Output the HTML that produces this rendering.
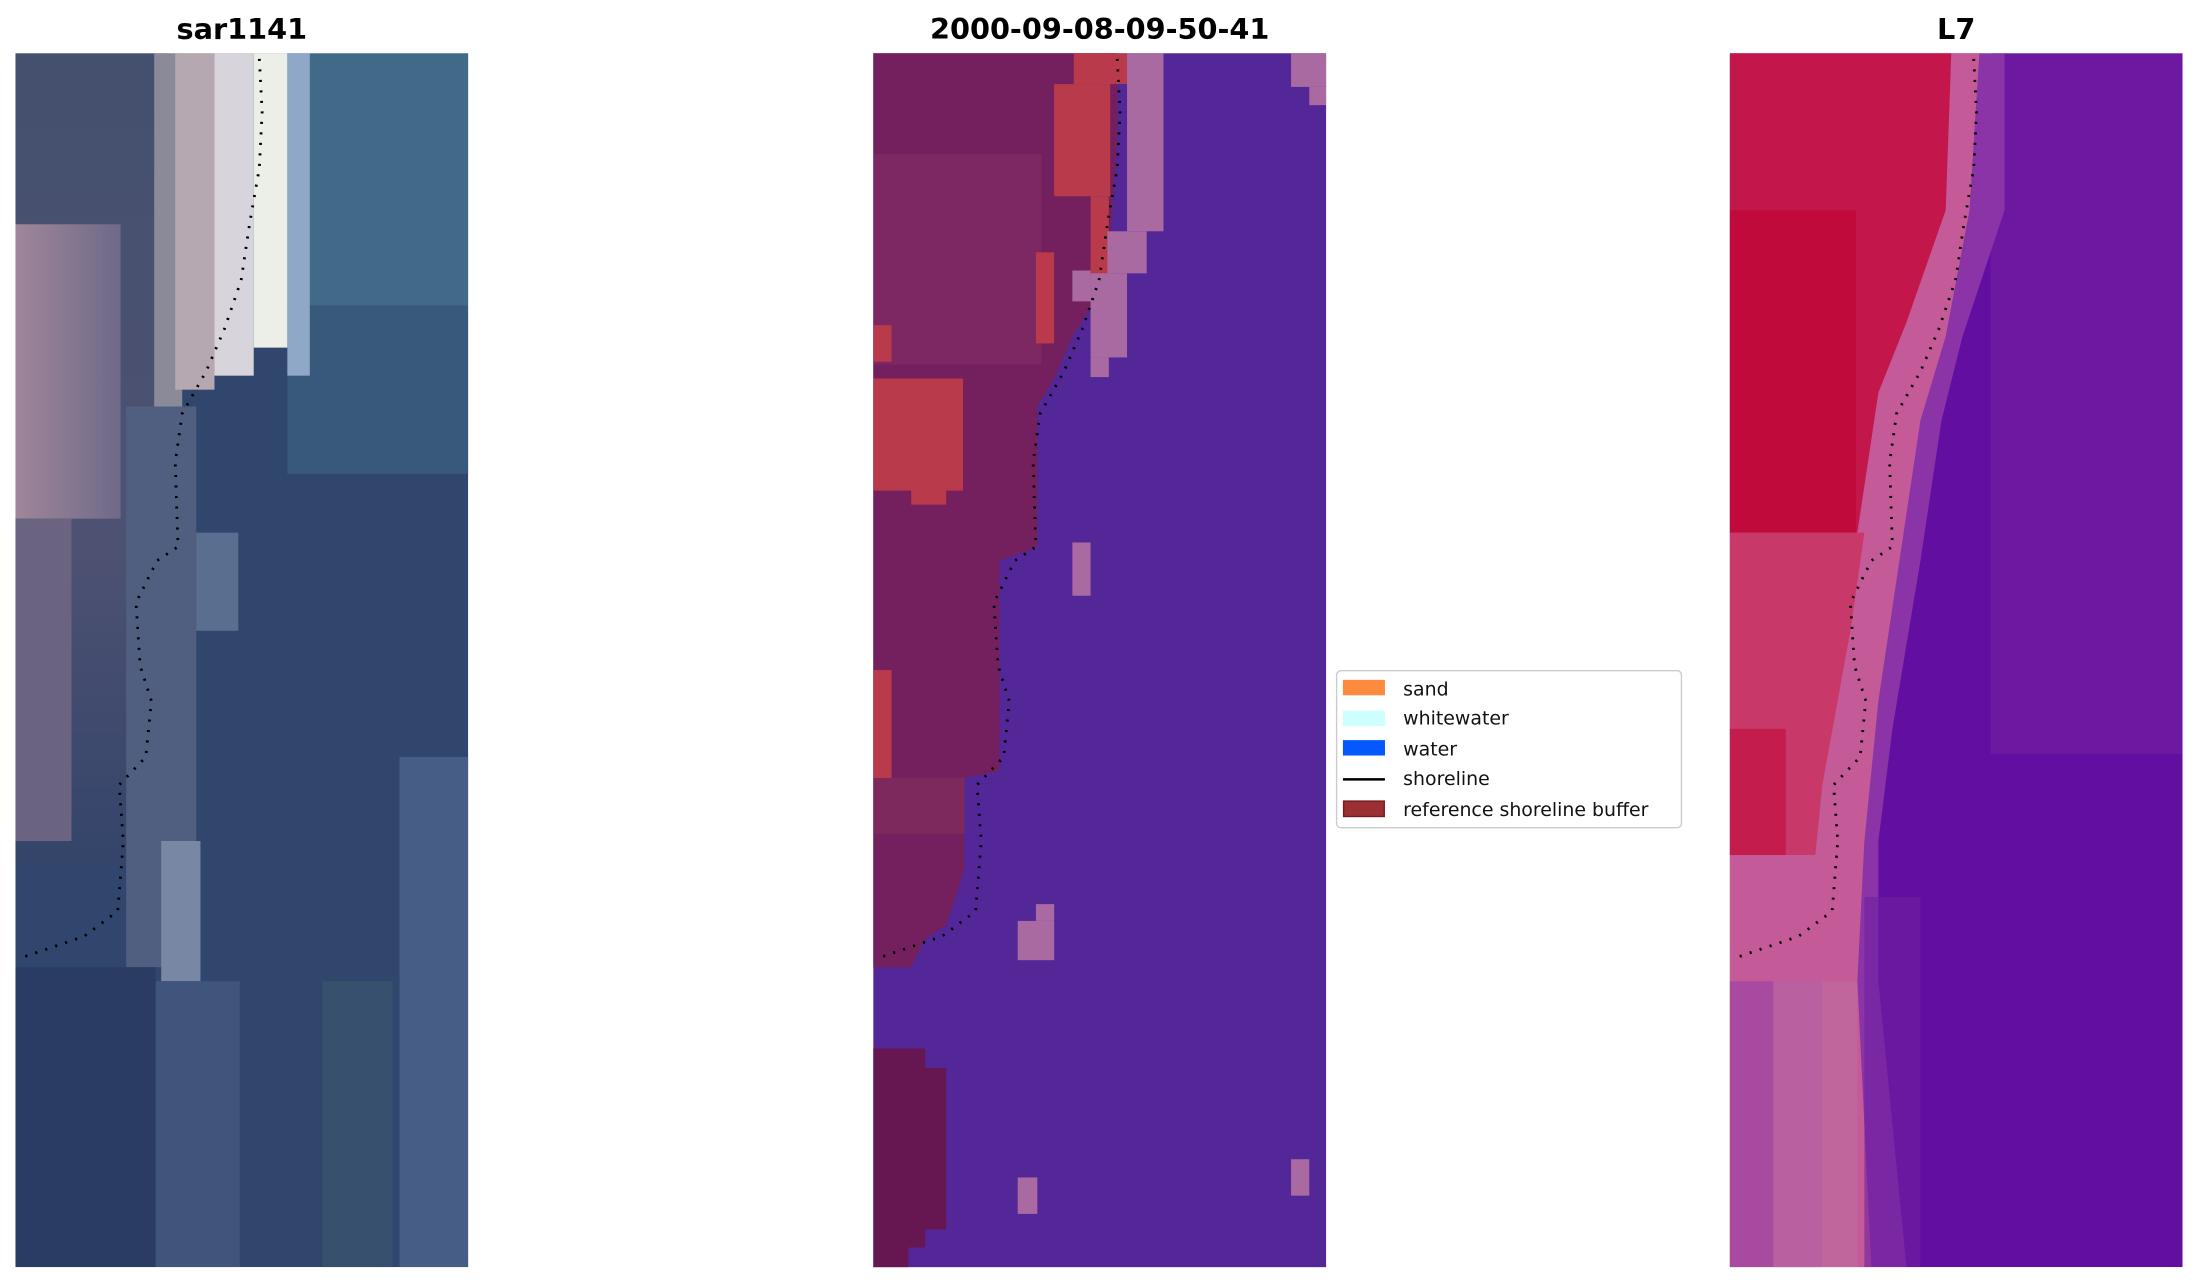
<!DOCTYPE html>
<html><head><meta charset="utf-8"><style>
html,body{margin:0;padding:0;background:#fff;}
svg{display:block;}
text{font-family:"DejaVu Sans","Liberation Sans",sans-serif;}
</style></head><body>
<svg width="2198" height="1283" viewBox="0 0 1568 915.3" preserveAspectRatio="none" xmlns="http://www.w3.org/2000/svg">
<defs>
<polyline id="shore" fill="none" stroke="#000" stroke-width="2" stroke-dasharray="1.5 6" points="185,42 187,80 185,120 178,160 172,200 160,235 147,265 130,295 125,330 127,390 112,400 97,430 100,475 108,500 104,540 85,560 88,600 84,650 60,668 16,683"/>
<clipPath id="c1"><rect x="11" y="38" width="323" height="866"/></clipPath>
<clipPath id="c3"><rect x="1234" y="38" width="323" height="866"/></clipPath>
<linearGradient id="g1" x1="0" y1="0" x2="0" y2="1"><stop offset="0" stop-color="#44506e"/><stop offset="0.6" stop-color="#4e5272"/><stop offset="1" stop-color="#34446a"/></linearGradient>
<linearGradient id="gp" x1="0" y1="0" x2="1" y2="0"><stop offset="0" stop-color="#a0869a"/><stop offset="1" stop-color="#6e6a88"/></linearGradient>
</defs>
<text x="172.5" y="28" font-size="20.5" font-weight="bold" text-anchor="middle">sar1141</text>
<text x="784.5" y="28" font-size="20.5" font-weight="bold" text-anchor="middle">2000-09-08-09-50-41</text>
<text x="1395.5" y="28" font-size="20.5" font-weight="bold" text-anchor="middle">L7</text>

<g clip-path="url(#c1)">
<rect x="11" y="38" width="323" height="866" fill="#30466c"/>
<rect x="205" y="38" width="129" height="180" fill="#416a88"/>
<rect x="205" y="218" width="129" height="120" fill="#38587c"/>
<rect x="11" y="38" width="110" height="580" fill="url(#g1)"/>
<rect x="11" y="160" width="75" height="210" fill="url(#gp)"/>
<rect x="11" y="370" width="40" height="230" fill="#6a6480"/>
<rect x="110" y="38" width="20" height="260" fill="#8a8a98"/>
<rect x="125" y="38" width="28" height="240" fill="#b6a8b0"/>
<rect x="153" y="38" width="28" height="230" fill="#d8d4dc"/>
<rect x="181" y="38" width="24" height="210" fill="#eceee8"/>
<rect x="205" y="38" width="16" height="230" fill="#90a8c8"/>
<rect x="90" y="290" width="50" height="400" fill="#505e80"/>
<rect x="115" y="600" width="28" height="100" fill="#7888a4"/>
<rect x="140" y="380" width="30" height="70" fill="#5a6e90"/>
<rect x="11" y="690" width="100" height="214" fill="#2a3c62"/>
<rect x="111" y="700" width="60" height="204" fill="#40557c"/>
<rect x="285" y="540" width="49" height="364" fill="#465e86"/>
<rect x="230" y="700" width="50" height="204" fill="#36506e"/>
<use href="#shore"/>
</g>

<rect x="623" y="38" width="323" height="866" fill="#532797"/>
<polygon fill="#74205e" points="623,38 797,38 797,100 790,200 765,240 752,270 740,290 740,390 713,400 713,550 688,555 688,620 675,660 660,670 650,690 623,690"/>
<rect x="623" y="110" width="120" height="150" fill="#873068" opacity="0.5"/>
<rect x="623" y="555" width="65" height="40" fill="#86305e" opacity="0.6"/>
<g fill="#b83a4b">
<rect x="623" y="270" width="64" height="80"/><rect x="650" y="348" width="25" height="12"/>
<rect x="623" y="478" width="13" height="77"/>
<rect x="623" y="232" width="13" height="26"/>
<rect x="752" y="60" width="40" height="80"/>
<rect x="739" y="180" width="13" height="65"/>
<rect x="778" y="140" width="13" height="80"/>
<rect x="766" y="38" width="38" height="22"/>
</g>
<g fill="#a86aa0">
<rect x="804" y="38" width="26" height="127"/><rect x="790" y="165" width="28" height="30"/>
<rect x="778" y="195" width="26" height="60"/><rect x="765" y="193" width="13" height="22"/>
<rect x="778" y="255" width="13" height="14"/>
<rect x="921" y="38" width="25" height="24"/><rect x="934" y="62" width="12" height="13"/>
<rect x="765" y="387" width="13" height="38"/>
<rect x="726" y="657" width="26" height="28"/><rect x="739" y="645" width="13" height="12"/>
<rect x="726" y="840" width="14" height="26"/>
<rect x="921" y="827" width="13" height="26"/>
</g>
<polygon fill="#661650" points="623,748 660,748 660,762 675,762 675,877 660,877 660,890 648,890 648,904 623,904"/>
<use href="#shore" transform="translate(612,0)"/>

<rect x="953.5" y="478.5" width="246" height="112" rx="3" fill="#fff" stroke="#cccccc" stroke-width="1"/>
<rect x="958" y="485" width="30" height="11" fill="#fd8b3d"/>
<rect x="958" y="507" width="30" height="11" fill="#ccfffe"/>
<rect x="958" y="528" width="30" height="11" fill="#0359fb"/>
<line x1="958" y1="556" x2="988" y2="556" stroke="#000" stroke-width="1.8"/>
<rect x="958.5" y="571.5" width="29" height="11" fill="#9a3034" stroke="#7a1a20" stroke-width="1"/>
<g font-size="13.5" fill="#111">
<text x="1001" y="496">sand</text>
<text x="1001" y="517">whitewater</text>
<text x="1001" y="539">water</text>
<text x="1001" y="560">shoreline</text>
<text x="1001" y="582">reference shoreline buffer</text>
</g>

<g clip-path="url(#c3)">
<rect x="1234" y="38" width="323" height="866" fill="#620ea0"/>
<rect x="1420" y="38" width="137" height="500" fill="#6c18a0"/>
<polygon fill="#8a34a8" points="1234,38 1430,38 1430,150 1400,240 1385,300 1370,400 1350,520 1340,600 1340,700 1360,904 1234,904"/>
<polygon fill="#c45a98" points="1234,38 1412,38 1405,150 1388,240 1370,300 1355,400 1340,500 1330,600 1325,700 1335,904 1234,904"/>
<polygon fill="#c3164a" points="1234,38 1392,38 1388,150 1360,230 1340,280 1325,380 1234,380"/>
<rect x="1234" y="150" width="90" height="230" fill="#c00a3c"/>
<polygon fill="#c83868" points="1234,380 1330,380 1320,450 1300,560 1295,610 1234,610"/>
<rect x="1234" y="520" width="40" height="90" fill="#c41c4c"/>
<polygon fill="#a84aa0" points="1234,700 1300,700 1300,904 1234,904"/>
<rect x="1265" y="700" width="60" height="204" fill="#c06aa0" opacity="0.7"/>
<rect x="1330" y="640" width="40" height="264" fill="#7020a0" opacity="0.6"/>
<use href="#shore" transform="translate(1223,0)"/>
</g>
</svg>
</body></html>
